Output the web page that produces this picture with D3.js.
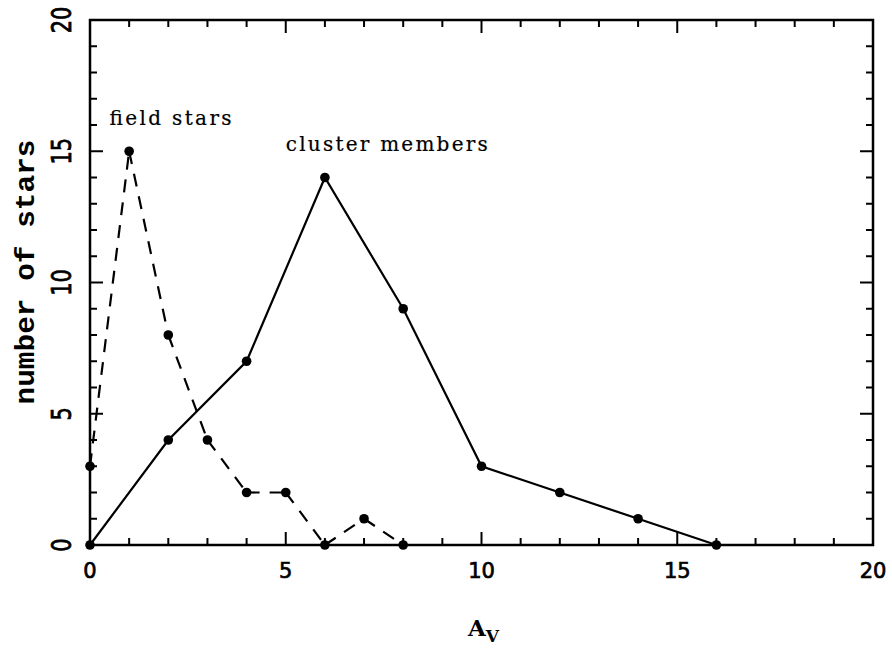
<!DOCTYPE html>
<html><head><meta charset="utf-8">
<script src="https://cdn.jsdelivr.net/npm/d3@7"></script>
<style>body{margin:0;background:#fff}</style>
</head><body>
<svg id="c" width="892" height="654"></svg>
<script>
const clusterAv = [0, 2, 4, 6, 8, 10, 12, 14, 16];
const clusterN  = [0, 4, 7, 14, 9, 3, 2, 1, 0];
const fieldAv   = [0, 1, 2, 3, 4, 5, 6, 7, 8];
const fieldN    = [3, 15, 8, 4, 2, 2, 0, 1, 0];
const xTicks = [0, 5, 10, 15, 20];
const yTicks = [0, 5, 10, 15, 20];
const labels = [{text: "field stars", x: 0.5, y: 16}, {text: "cluster members", x: 5.0, y: 15}];

const svg = d3.select("#c");
const L = 90, R = 873, T = 20, B = 545;
const x = d3.scaleLinear().domain([0, 20]).range([L, R]);
const y = d3.scaleLinear().domain([0, 20]).range([B, T]);
const minor = d3.range(0, 21, 1);

// ticks on all 4 sides
const g = svg.append("g").attr("stroke", "#000").attr("stroke-width", 2);
minor.forEach(v => {
  const len = v % 5 === 0 ? 13 : 7;
  if (v > 0 && v < 20) {
    g.append("line").attr("x1", x(v)).attr("x2", x(v)).attr("y1", B).attr("y2", B - len);
    g.append("line").attr("x1", x(v)).attr("x2", x(v)).attr("y1", T).attr("y2", T + len);
    g.append("line").attr("y1", y(v)).attr("y2", y(v)).attr("x1", L).attr("x2", L + len);
    g.append("line").attr("y1", y(v)).attr("y2", y(v)).attr("x1", R).attr("x2", R - len);
  }
});
svg.append("rect").attr("x", L).attr("y", T).attr("width", R - L).attr("height", B - T)
  .attr("fill", "none").attr("stroke", "#000").attr("stroke-width", 2.5);

// x tick labels
svg.selectAll(".xl").data(xTicks).enter().append("text")
  .attr("x", d => x(d)).attr("y", 578).attr("text-anchor", "middle")
  .attr("font-family", "DejaVu Sans").attr("font-size", 21)
  .attr("stroke", "#000").attr("stroke-width", 0.7).text(d => d);
// y tick labels (rotated)
svg.selectAll(".yl").data(yTicks).enter().append("text")
  .attr("transform", d => `translate(71,${y(d)}) rotate(-90) scale(1,1.3)`)
  .attr("text-anchor", "middle")
  .attr("font-family", "DejaVu Sans").attr("font-size", 21)
  .attr("stroke", "#000").attr("stroke-width", 0.6).text(d => d);

// axis titles
svg.append("text").attr("transform", "translate(34,272) rotate(-90)")
  .attr("text-anchor", "middle").attr("font-family", "Liberation Mono").attr("font-weight", "bold")
  .attr("font-size", 27).attr("textLength", 265).attr("lengthAdjust", "spacingAndGlyphs")
  .text("number of stars");
const xt = svg.append("text").attr("x", 468).attr("y", 636)
  .attr("font-family", "DejaVu Serif").attr("font-weight", "bold").attr("font-size", 23);
xt.append("tspan").text("A");
xt.append("tspan").attr("dy", 6).attr("font-size", 17).text("V");

// lines
const line = d3.line().x(d => x(d[0])).y(d => y(d[1]));
const cl = clusterAv.map((v, i) => [v, clusterN[i]]);
const fs = fieldAv.map((v, i) => [v, fieldN[i]]);
svg.append("path").attr("d", line(cl)).attr("fill", "none").attr("stroke", "#000").attr("stroke-width", 2.2);
for (let i = 0; i < fs.length - 1; i++) {
  svg.append("path").attr("d", line([fs[i], fs[i + 1]])).attr("fill", "none")
    .attr("stroke", "#000").attr("stroke-width", 2.2).attr("stroke-dasharray", "13,10");
}
svg.selectAll(".pc").data(cl.concat(fs)).enter().append("circle")
  .attr("cx", d => x(d[0])).attr("cy", d => y(d[1])).attr("r", 4.8).attr("fill", "#000");

// annotations
svg.selectAll(".an").data(labels).enter().append("text")
  .attr("x", d => x(d.x)).attr("y", d => y(d.y))
  .attr("font-family", "DejaVu Serif").attr("font-size", 20)
  .attr("stroke", "#000").attr("stroke-width", 0.2)
  .attr("textLength", d => d.text === "field stars" ? 122 : 202).attr("lengthAdjust", "spacing")
  .text(d => d.text);
</script>
</body></html>
